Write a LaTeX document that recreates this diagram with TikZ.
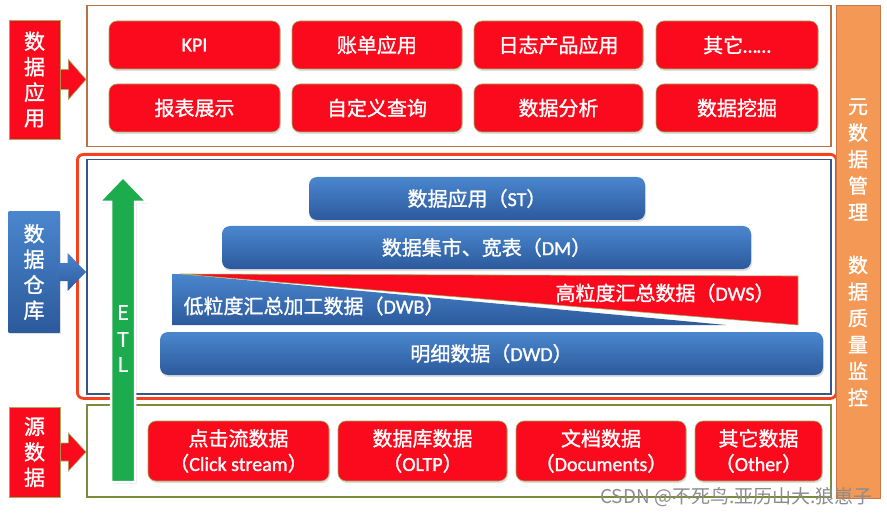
\documentclass[tikz,border=0pt]{standalone}
\usepackage{fontspec}
\setmainfont{Noto Sans CJK SC}[FakeBold=1.2]
\newfontfamily\lat{Carlito}[FakeBold=1.2]
\newfontfamily\wmfont{Noto Sans CJK SC}
\usetikzlibrary{calc,shadows}
\definecolor{btnred}{RGB}{250,10,28}
\definecolor{btnedge}{RGB}{160,175,95}
\definecolor{bluetop}{RGB}{74,134,206}
\definecolor{bluebot}{RGB}{44,90,156}
\definecolor{brownc}{RGB}{185,115,65}
\definecolor{olivec}{RGB}{120,140,60}
\definecolor{whred}{RGB}{245,65,30}
\definecolor{navyc}{RGB}{55,85,135}
\definecolor{orangef}{RGB}{243,152,85}
\definecolor{oranged}{RGB}{200,120,70}
\definecolor{etlgreen}{RGB}{28,172,78}
\definecolor{wmgray}{RGB}{140,140,140}
\tikzset{
  shad/.style={drop shadow={shadow xshift=1pt,shadow yshift=-2pt,opacity=0.25}},
  btn/.style={rectangle, rounded corners=8pt, fill=btnred, draw=btnedge, line width=0.6pt,
    text=white, font=\fontsize{20}{25}\selectfont, inner sep=0pt, align=center, shad},
  bar/.style={rectangle, rounded corners=8pt, top color=bluetop, bottom color=bluebot,
    text=white, font=\fontsize{20}{25}\selectfont, inner sep=0pt, minimum height=43pt, shad},
  frame/.style={rectangle, inner sep=0pt, anchor=north west},
  lab/.style={rectangle, inner sep=0pt, text=white, align=center, minimum width=51pt,
    font=\fontsize{21}{25.5}\selectfont},
  redlab/.style={lab, fill=btnred, draw=btnedge, line width=0.8pt},
  bluelab/.style={lab, top color=bluetop, bottom color=bluebot, shad},
  txtw/.style={text=white, inner sep=0pt, font=\fontsize{20}{25}\selectfont},
  arrred/.style={fill=btnred, draw=btnedge, line width=0.6pt},
  arrblue/.style={top color=bluetop, bottom color=bluebot, draw=none}
}
\begin{document}
\begin{tikzpicture}[x=1pt,y=-1pt]
\useasboundingbox (0,0) rectangle (887,516);
% frames
\node[frame, draw=brownc, line width=1.5pt, minimum width=744pt, minimum height=141pt] (appbox) at (86,5) {};
\node[frame, draw=whred, line width=2.8pt, rounded corners=6pt, minimum width=759pt, minimum height=244pt] (dwouter) at (76,153) {};
\node[frame, draw=navyc, line width=1.5pt, minimum width=744pt, minimum height=234pt] (dwbox) at (86,159) {};
\node[frame, draw=olivec, line width=1.5pt, minimum width=744pt, minimum height=92pt] (srcbox) at (86,404) {};
\node[frame, fill=orangef, draw=oranged, line width=1pt, minimum width=44pt, minimum height=493pt] (meta) at (836,5) {};
\node[text=white, align=center, inner sep=0pt, font=\fontsize{20}{26.5}\selectfont] (metatxt) at (858,252.5)
  {元\\数\\据\\管\\理\\\mbox{}\\数\\据\\质\\量\\监\\控};
% application buttons
\node[btn, minimum width=171pt, minimum height=48pt] (kpi) at (194.5,45) {\lat KPI};
\node[btn, minimum width=170pt, minimum height=48pt] (bill) at (377,45) {账单应用};
\node[btn, minimum width=169pt, minimum height=48pt] (log) at (558.5,45) {日志产品应用};
\node[btn, minimum width=162pt, minimum height=48pt] (other1) at (737,45) {其它{\lat ……}};
\node[btn, minimum width=171pt, minimum height=48pt] (report) at (194.5,108) {报表展示};
\node[btn, minimum width=170pt, minimum height=48pt] (query) at (377,108) {自定义查询};
\node[btn, minimum width=169pt, minimum height=48pt] (analysis) at (558.5,108) {数据分析};
\node[btn, minimum width=162pt, minimum height=48pt] (mining) at (737,108) {数据挖掘};
% warehouse layers
\node[bar, minimum width=336pt] (st) at (477,198.5) {数据应用（{\lat ST}）};
\node[bar, minimum width=529pt] (dm) at (486.5,247.5) {数据集市、宽表（{\lat DM}）};
\path[top color=bluetop, bottom color=bluebot] (172,274) -- (180,274) -- (726,325) -- (172,325) -- cycle;
\draw[fill=btnred, draw=btnedge, line width=0.6pt] (180,274) -- (798,276) -- (798,325) -- cycle;
\node[txtw] (dwb) at (314,306) {低粒度汇总加工数据（{\lat DWB}）};
\node[txtw] (dws) at (665,293) {高粒度汇总数据（{\lat DWS}）};
\node[bar, minimum width=663pt] (dwd) at (491.5,353.5) {明细数据（{\lat DWD}）};
% source buttons
\node[btn, minimum width=181pt, minimum height=60pt] (click) at (238.5,451) {点击流数据\\（{\lat Click stream}）};
\node[btn, minimum width=169pt, minimum height=60pt] (oltp) at (422.5,451) {数据库数据\\（{\lat OLTP}）};
\node[btn, minimum width=170pt, minimum height=60pt] (docs) at (601,451) {文档数据\\（{\lat Documents}）};
\node[btn, minimum width=127pt, minimum height=60pt] (other2) at (758.5,451) {其它数据\\（{\lat Other}）};
% left labels
\node[redlab, minimum height=119pt] (l1) at (34.5,79.5) {数\\据\\应\\用};
\node[bluelab, minimum height=120pt] (l2) at (34,272) {数\\据\\仓\\库};
\node[redlab, minimum height=90pt] (l3) at (34.5,452) {源\\数\\据};
% block arrows from labels
\coordinate (a1) at (l1.east);
\coordinate (t1) at (appbox.west |- a1);
\draw[arrred] ($(a1)+(0,-10)$) -- ($(a1)+(8,-10)$) -- ($(a1)+(8,-20)$) -- (t1)
  -- ($(a1)+(8,20)$) -- ($(a1)+(8,10)$) -- ($(a1)+(0,10)$) -- cycle;
\coordinate (a2) at (l2.east);
\coordinate (t2) at (dwbox.west |- a2);
\path[arrblue] ($(a2)+(0,-9)$) -- ($(a2)+(8,-9)$) -- ($(a2)+(8,-19)$) -- (t2)
  -- ($(a2)+(8,19)$) -- ($(a2)+(8,9)$) -- ($(a2)+(0,9)$) -- cycle;
\coordinate (a3) at (l3.east);
\coordinate (t3) at (srcbox.west |- a3);
\draw[arrred] ($(a3)+(0,-9)$) -- ($(a3)+(8,-9)$) -- ($(a3)+(8,-19)$) -- (t3)
  -- ($(a3)+(8,19)$) -- ($(a3)+(8,9)$) -- ($(a3)+(0,9)$) -- cycle;
% ETL arrow
\draw[white, line width=2.5pt, fill=etlgreen, drop shadow={shadow xshift=1.5pt,shadow yshift=-1.5pt,opacity=0.3}]
  (111,482) -- (111,202) -- (99,202) -- (123,177) -- (147,202) -- (135,202) -- (135,482) -- cycle;
\node[text=white, inner sep=0pt, font=\fontsize{20}{26}\selectfont] (etlE) at (123,312.5) {E};
\node[text=white, inner sep=0pt, font=\fontsize{20}{26}\selectfont] (etlT) at (123,339.5) {T};
\node[text=white, inner sep=0pt, font=\fontsize{20}{26}\selectfont] (etlL) at (123,364.5) {L};
% watermark
\node[text=wmgray, inner sep=0pt, anchor=east, font=\wmfont\fontsize{19}{19}\selectfont] (wm) at (873,497) {CSDN @不死鸟.亚历山大.狼崽子};
\end{tikzpicture}
\end{document}
